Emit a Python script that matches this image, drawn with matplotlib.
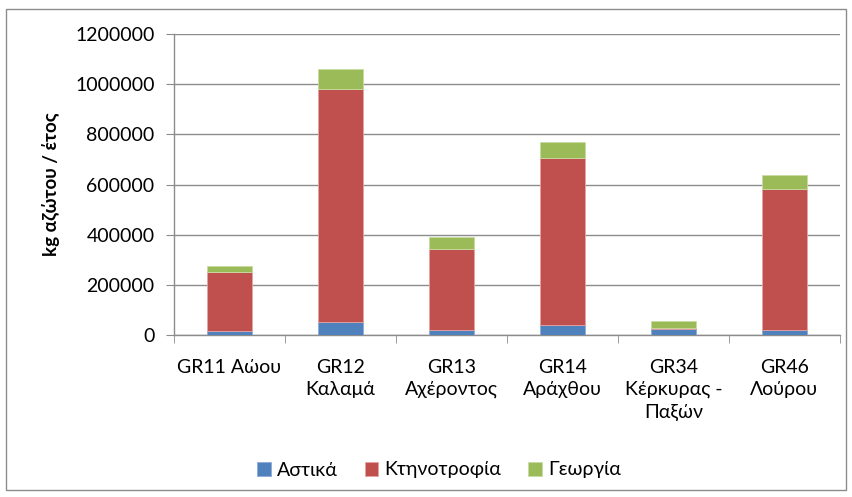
import matplotlib.pyplot as plt
import numpy as np
from matplotlib.patches import Rectangle

plt.rcParams['font.family'] = ['Lato', 'DejaVu Sans']

# data
categories = ["GR11 Αώου", "GR12\nΚαλαμά", "GR13\nΑχέροντος", "GR14\nΑράχθου",
              "GR34\nΚέρκυρας -\nΠαξών", "GR46\nΛούρου"]
astika = [15000, 53000, 20000, 40000, 22000, 20000]
ktinotrofia = [237000, 927000, 321500, 665000, 7000, 562000]
georgia = [23000, 79000, 47500, 63000, 26000, 54000]

series_names = ["Αστικά", "Κτηνοτροφία", "Γεωργία"]
colors = ["#4F81BD", "#C0504D", "#9BBB59"]
edges = ["#8EAADB", "#E5A4A3", "#C8DBA4"]

fig = plt.figure(figsize=(8.52, 4.97), dpi=100)
fig.patches.append(Rectangle((6 / 852, 7 / 497), 840 / 852, 481 / 497,
                             transform=fig.transFigure, fill=False,
                             edgecolor="#8C8C8C", linewidth=1.0))

ax = fig.add_axes([174 / 852, 1 - 335 / 497, 666 / 852, 301 / 497])

x = np.arange(len(categories))
bottom = np.zeros(len(categories))
for vals, name, c, e in zip([astika, ktinotrofia, georgia], series_names, colors, edges):
    ax.bar(x, vals, 0.405, bottom=bottom, color=c, edgecolor=e, linewidth=0.6,
           label=name, zorder=3)
    bottom += np.array(vals)

ax.set_xlim(-0.5, len(categories) - 0.5)
ax.set_ylim(0, 1200000)
ax.set_yticks(np.arange(0, 1200001, 200000))
ax.set_yticklabels([str(v) for v in range(0, 1200001, 200000)], fontsize=14)
ax.yaxis.grid(True, color="#8C8C8C", linewidth=1.0, zorder=0)

ax.set_xticks(x)
ax.set_xticklabels(categories, fontsize=14, linespacing=1.38, va="top")
ax.set_xticks(np.arange(-0.5, len(categories)), minor=True)
ax.tick_params(axis="x", which="major", length=0, pad=17)
ax.tick_params(axis="x", which="minor", length=6, color="#8C8C8C", direction="out")
ax.tick_params(axis="y", length=6, color="#8C8C8C", direction="out", pad=8)

for s in ["top", "right"]:
    ax.spines[s].set_visible(False)
for s in ["left", "bottom"]:
    ax.spines[s].set_color("#8C8C8C")
    ax.spines[s].set_linewidth(1.0)

ax.set_ylabel("kg αζώτου / έτος", fontsize=13.5, fontweight="bold", labelpad=11)

ax.legend(loc="center", bbox_to_anchor=(439 / 852, 1 - 470 / 497),
          bbox_transform=fig.transFigure, ncol=3, frameon=False, fontsize=14,
          handlelength=0.7, handleheight=0.7, handletextpad=0.3, columnspacing=1.4)

fig.savefig("out.png", dpi=100)
